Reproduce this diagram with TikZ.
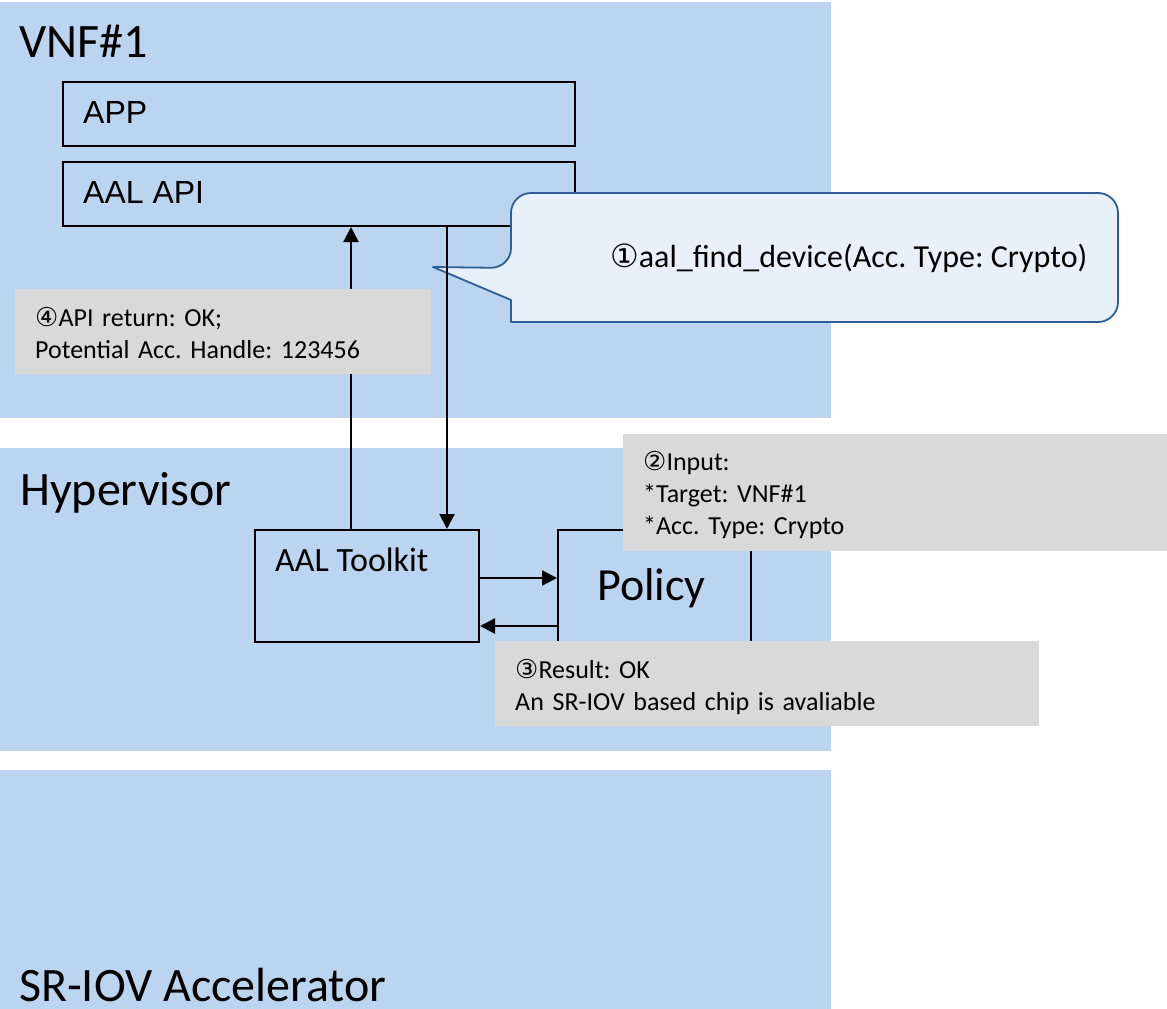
\documentclass[tikz,border=0pt]{standalone}
\usepackage{fontspec}
\setmainfont{Carlito}
\newfontfamily\arialfont{Liberation Sans}
\newfontfamily\symfont{DejaVu Sans}
\usetikzlibrary{arrows.meta}
\definecolor{layerblue}{RGB}{187,213,240}
\definecolor{notegrey}{RGB}{217,217,217}
\definecolor{calloutfill}{RGB}{232,240,250}
\definecolor{calloutedge}{RGB}{47,94,150}
\newcommand\cnum[1]{{\symfont #1}}
\frenchspacing
\begin{document}
\begin{tikzpicture}[x=1pt,y=-1pt,
  layer/.style={fill=layerblue, draw=none, inner sep=0pt, outer sep=0pt},
  box/.style={draw=black, line width=2pt, inner sep=0pt},
  note/.style={fill=notegrey, draw=none, inner sep=0pt, outer sep=0pt},
  title/.style={anchor=base west, inner sep=0pt, font=\fontsize{48}{58}\selectfont},
  apilabel/.style={anchor=base west, inner sep=0pt, font=\arialfont\fontsize{32}{38}\selectfont},
  notetext/.style={anchor=base west, inner sep=0pt, text width=500pt, align=left,
    font=\fontsize{26}{32}\selectfont},
  arr/.style={line width=2.2pt, -{Triangle[length=15pt,width=15pt]}},
  callout/.style={fill=calloutfill, draw=calloutedge, line width=1.8pt, line join=round}
]
\useasboundingbox (0,0) rectangle (1167,1009);

% layers
\node[layer, minimum width=831pt, minimum height=416pt] (vnf) at (415.5,210) {};
\node[layer, minimum width=831pt, minimum height=303pt] (hyp) at (415.5,599.5) {};
\node[layer, minimum width=831pt, minimum height=239pt] (acc) at (415.5,889.5) {};

\node[title] (vnftitle) at (19,57) {VNF\#1};
\node[title] (hyptitle) at (20,505) {Hypervisor};
\node[title] (acctitle) at (19,1001) {SR-IOV Accelerator};

% VNF components
\node[box, minimum width=512pt, minimum height=64pt] (app) at (319,114) {};
\node[apilabel] (applabel) at (83,123) {APP};
\node[box, minimum width=512pt, minimum height=64pt] (aalapi) at (319,194) {};
\node[apilabel] (aalapilabel) at (83,203) {AAL API};

% hypervisor components
\node[box, minimum width=224pt, minimum height=112pt] (toolkit) at (367,586) {};
\node[anchor=base west, inner sep=0pt, font=\fontsize{34}{40}\selectfont] (toolkitlabel) at (275,571) {AAL Toolkit};
\node[box, minimum width=193pt, minimum height=130pt] (policy) at (654.5,595) {};
\node[anchor=base west, inner sep=0pt, font=\fontsize{46}{54}\selectfont] (policylabel) at (597,600) {Policy};

% speech bubble for the API call
\draw[callout] (800,193) [rounded corners=20pt] -- (511,193) -- (511,268)
  [sharp corners] -- (433,267) -- (511,300) -- (511,322)
  [rounded corners=20pt] -- (1118,322) -- (1118,193) -- cycle;
\node[anchor=base west, inner sep=0pt, font=\fontsize{32}{38}\selectfont] (calltext) at (610,267)
  {\cnum{①}aal\_find\_device(Acc. Type: Crypto)};

% connectors
\coordinate (upx) at (351,0);
\coordinate (downx) at (447,0);
\coordinate (reqy) at (0,578);
\coordinate (resy) at (0,626);
\draw[arr] (toolkit.north -| upx) -- (aalapi.south -| upx);
\draw[arr] (aalapi.south -| downx) -- (toolkit.north -| downx);
\draw[arr] (toolkit.east |- reqy) -- (policy.west |- reqy);
\draw[arr] (policy.west |- resy) -- (toolkit.east |- resy);

% step notes
\node[note, minimum width=416pt, minimum height=85pt] (note4) at (223,331.5) {};
\node[notetext] (note4text) at (35,326) {\cnum{④}API return: OK;\\\relax Potential Acc. Handle: 123456};
\node[note, minimum width=544pt, minimum height=117pt] (note2) at (895,492.5) {};
\node[notetext] (note2text) at (643,470) {\cnum{②}Input:\\\relax *Target: VNF\#1\\\relax *Acc. Type: Crypto};
\node[note, minimum width=544pt, minimum height=85pt] (note3) at (767,683.5) {};
\node[notetext] (note3text) at (515,678) {\cnum{③}Result: OK\\\relax An SR-IOV based chip is avaliable};
\end{tikzpicture}
\end{document}
